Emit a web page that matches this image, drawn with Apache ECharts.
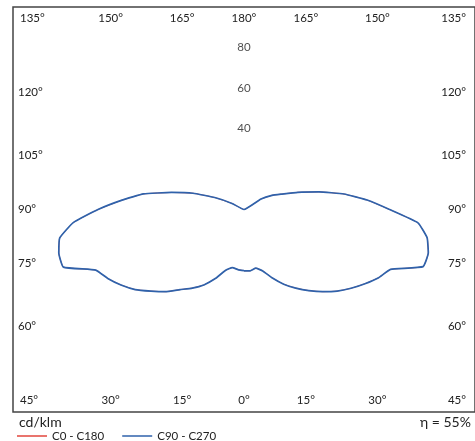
<!DOCTYPE html>
<html><head><meta charset="utf-8">
<script src="https://cdn.jsdelivr.net/npm/echarts@6/dist/echarts.min.js"></script>
<style>html,body{margin:0;padding:0;background:#fff;overflow:hidden}#c{width:475px;height:441px}</style>
</head><body><div id="c"></div>
<script>
// gamma angles (deg from nadir)
const angles = [0,5,10,15,20,25,30,35,40,45,50,55,60,65,70,75,80,85,90,95,100,105,110,115,120,125,130,135,140,145,150,155,160,165,170,175,180];
// intensities cd/klm, C90 half-plane (right) and C270 half-plane (left)
const c90  = [30.3,30.4,29.4,31.4,36.0,40.7,44.8,48.9,53.0,57.0,60.5,63.9,67.3,70.0,82.5,82.6,80.5,75.6,63.0,53.5,44.0,33.6,24.8,18.0,14.0,9.0,0,0,0,0,0,0,0,0,0,0,0];
const c270 = [30.2,29.8,29.1,31.2,36.3,41.1,44.8,48.3,53.0,57.0,61.5,65.0,68.1,70.8,83.2,83.0,81.0,74.2,63.2,53.0,44.2,32.5,23.5,14.0,6.0,0,0,0,0,0,0,0,0,0,0,0,0];
// C0-C180 plane (drawn underneath, coincides with C90-C270 in the picture)
const c0   = c90.slice();
const c180 = c270.slice();
// tick labels
const bottomTicks = [-45,-30,-15,0,15,30,45];
const topTicks = [-135,-150,-165,180,165,150,135];
const sideTicks = [60,75,90,105,120];
const radialTicks = [40,60,80];
const etaText = 'η = 55%';
const unitText = 'cd/klm';

const R = 100;
const rad = d => d * Math.PI / 180;
const FONT = 'Lato';
function halfPlane(vals, side) {
  return angles.map((a, i) => [side * vals[i] * Math.sin(rad(a)), -vals[i] * Math.cos(rad(a))]);
}
function loop(right, left) {
  return halfPlane(right, 1).concat(halfPlane(left, -1).reverse());
}
const bottomPos = bottomTicks.map(a => R * Math.tan(rad(a)));
const topPos = topTicks.map(a => (a === 180 ? 0 : Math.sign(a) * R * Math.tan(rad(180 - Math.abs(a)))));
const sidePos = sideTicks.map(a => R * Math.tan(rad(a - 90)));
function nearest(pos, v) {
  let best = 0;
  pos.forEach((p, i) => { if (Math.abs(p - v) < Math.abs(pos[best] - v)) best = i; });
  return best;
}
const labelBase = { color: '#222', fontFamily: FONT, fontSize: 11.5 };
const rich = {
  l: { fontFamily: FONT, fontSize: 11.5, color: '#222', padding: [0, 0, 0, 7] },
  r: { fontFamily: FONT, fontSize: 11.5, color: '#222', padding: [0, 9, 0, 0] }
};
function hFormatter(ticks, pos) {
  return v => {
    const i = nearest(pos, v);
    const t = Math.abs(ticks[i]) + '°';
    if (i === 0) return '{l|' + t + '}';
    if (i === ticks.length - 1) return '{r|' + t + '}';
    return t;
  };
}
const hidden = { axisLine: { show: false }, axisTick: { show: false }, splitLine: { show: false } };

const chart = echarts.init(document.getElementById('c'));
chart.setOption({
  animation: false,
  backgroundColor: '#fff',
  title: [
    { text: unitText, left: 19, top: 415, padding: 0, textStyle: { fontFamily: FONT, fontSize: 14, fontWeight: 'normal', color: '#222' } },
    { text: etaText, left: 420, top: 415, padding: 0, textStyle: { fontFamily: FONT, fontSize: 14, fontWeight: 'normal', color: '#222' } }
  ],
  legend: {
    left: 17, top: 430, padding: 0, icon: 'rect', itemWidth: 30, itemHeight: 1.5, itemGap: 18,
    textStyle: { fontFamily: FONT, fontSize: 11.5, color: '#222' },
    data: ['C0 - C180', 'C90 - C270']
  },
  grid: { left: 13, top: 7, width: 469, height: 405, show: true, borderColor: '#444', borderWidth: 1.5, containLabel: false },
  xAxis: [
    Object.assign({ type: 'value', min: -R, max: R, position: 'bottom',
      axisLabel: Object.assign({ inside: true, margin: 6, customValues: bottomPos, formatter: hFormatter(bottomTicks, bottomPos), alignMinLabel: 'left', alignMaxLabel: 'right', rich }, labelBase) }, hidden),
    Object.assign({ type: 'value', min: -R, max: R, position: 'top',
      axisLabel: Object.assign({ inside: true, margin: 5, customValues: topPos, formatter: hFormatter(topTicks, topPos), alignMinLabel: 'left', alignMaxLabel: 'right', rich }, labelBase) }, hidden)
  ],
  yAxis: [
    Object.assign({ type: 'value', min: -R, max: R, position: 'left',
      axisLabel: Object.assign({ inside: true, margin: 5, customValues: sidePos, formatter: v => sideTicks[nearest(sidePos, v)] + '°' }, labelBase) }, hidden),
    Object.assign({ type: 'value', min: -R, max: R, position: 'right',
      axisLabel: Object.assign({ inside: true, margin: 9, customValues: sidePos, formatter: v => sideTicks[nearest(sidePos, v)] + '°' }, labelBase) }, hidden)
  ],
  series: [
    { name: 'C0 - C180', type: 'line', data: loop(c0, c180), showSymbol: false, symbol: 'none', smooth: 0.12,
      lineStyle: { color: '#e2463d', width: 0.8 }, itemStyle: { color: '#e2463d' }, z: 2 },
    { name: 'C90 - C270', type: 'line', data: loop(c90, c270), showSymbol: false, symbol: 'none', smooth: 0.12,
      lineStyle: { color: '#2f62ab', width: 1.7 }, itemStyle: { color: '#2f62ab' }, z: 3 },
    { name: 'radial', type: 'scatter', data: radialTicks.map(v => [0, v]), symbolSize: 1,
      itemStyle: { color: 'rgba(0,0,0,0)' }, silent: true,
      label: { show: true, position: 'inside', formatter: p => String(p.value[1]), color: '#222', fontFamily: FONT, fontSize: 11.5 } }
  ]
});
</script></body></html>
